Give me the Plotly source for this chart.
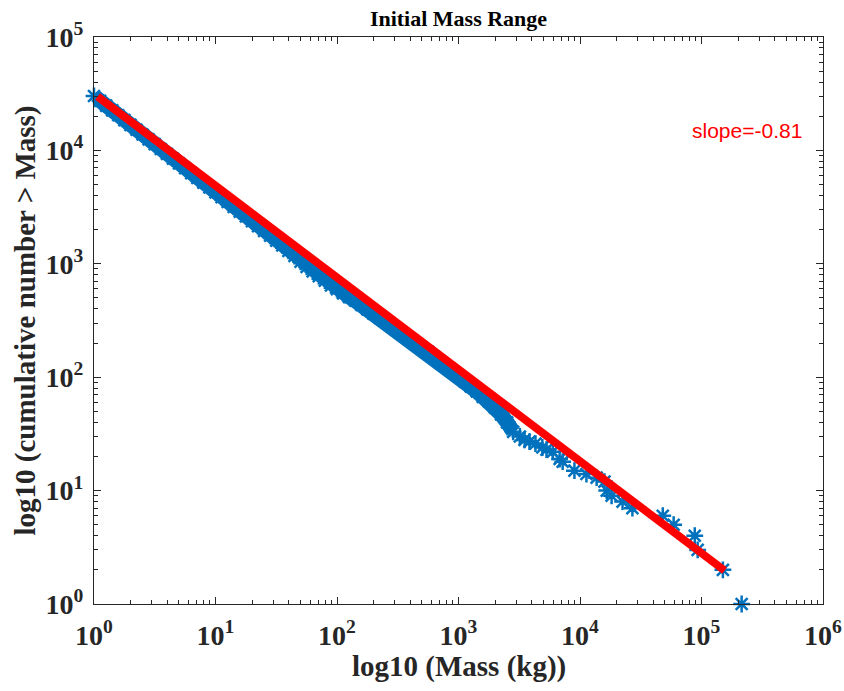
import plotly.graph_objects as go

# ---- data ----
# dense part of the cumulative distribution (mass in kg, cumulative number > mass)
dense_mass = [1.00, 1.122, 1.259, 1.413, 1.585, 1.778, 1.995, 2.239, 2.512, 2.818,
              3.162, 3.548, 3.981, 4.467, 5.012, 5.623, 6.310, 7.079, 7.943, 8.913,
              10.0, 11.22, 12.59, 14.13, 15.85, 17.78, 19.95, 22.39, 25.12, 28.18,
              31.62, 35.48, 39.81, 44.67, 50.12, 56.23, 63.10, 70.79, 79.43, 89.13,
              100, 112.2, 125.9, 141.3, 158.5, 177.8, 199.5, 223.9, 251.2, 281.8,
              316.2, 354.8, 398.1, 446.7, 501.2, 562.3, 631.0, 707.9, 794.3, 891.3,
              1000, 1122, 1259, 1413, 1585, 1778, 1995, 2239, 2512, 2818]
dense_count = [30200, 27380, 24830, 22520, 20420, 18510, 16790, 15220, 13800, 12520,
               11350, 10290, 9333, 8463, 7674, 6959, 6310, 5722, 5188, 4705,
               4266, 3868, 3508, 3181, 2884, 2615, 2371, 2150, 1950, 1768,
               1603, 1454, 1300, 1171, 1042, 939, 855, 779, 710, 646,
               596, 549, 509, 473, 433, 396, 364, 335, 308, 283,
               260, 238, 218, 199, 182, 167, 151, 137, 124, 113,
               102, 92, 83, 75, 67, 61, 54, 47, 40, 33]
# sparse tail
tail_mass = [3200, 3500, 3840, 4300, 4900, 5300, 5970, 6800, 7200, 9000, 11300, 13700,
             15900, 16600, 18200, 22400, 27000, 48000, 59000, 88000, 93000, 150000, 214000]
tail_count = [30, 28, 27, 26, 24, 23, 22, 19, 18, 15, 14, 13,
              12, 10, 9, 8, 7, 6, 5, 4, 3, 2, 1]

# power-law fit
fit_slope = -0.81
fit_log10_intercept = 4.499
fit_mass = [1.07, 1.55e5]
fit_count = [10 ** fit_log10_intercept * m ** fit_slope for m in fit_mass]

x_tickvals = [1, 10, 100, 1e3, 1e4, 1e5, 1e6]
x_ticktext = ["10<sup>0</sup>", "10<sup>1</sup>", "10<sup>2</sup>", "10<sup>3</sup>",
              "10<sup>4</sup>", "10<sup>5</sup>", "10<sup>6</sup>"]
y_tickvals = [1, 10, 100, 1e3, 1e4, 1e5]
y_ticktext = ["10<sup>0</sup>", "10<sup>1</sup>", "10<sup>2</sup>", "10<sup>3</sup>",
              "10<sup>4</sup>", "10<sup>5</sup>"]

BLUE = "#0072BD"
RED = "#FF0000"
AX = "#262626"

mass_all = dense_mass + tail_mass
count_all = dense_count + tail_count

fig = go.Figure()
# dense region: the real data are packed so tightly they form a solid band
fig.add_trace(go.Scatter(
    x=dense_mass, y=dense_count, mode="lines",
    line=dict(color=BLUE, width=15), showlegend=False, hoverinfo="skip"))
fig.add_trace(go.Scatter(
    x=mass_all, y=count_all, mode="markers",
    marker=dict(symbol="asterisk-open", size=14, color=BLUE,
                line=dict(color=BLUE, width=2.5)),
    cliponaxis=False, showlegend=False))
fig.add_trace(go.Scatter(
    x=fit_mass, y=fit_count, mode="lines",
    line=dict(color=RED, width=8), showlegend=False))

def minor_vals(maxdec):
    v = []
    for d in range(maxdec):
        for k in range(2, 10):
            v.append(k * 10 ** d)
    return v

tickfont = dict(family="Liberation Serif", size=28, color=AX, weight="bold")
common = dict(type="log", ticks="inside", ticklen=7, tickwidth=1, tickcolor=AX,
              linecolor=AX, linewidth=1, mirror="ticks", showgrid=False,
              zeroline=False, tickfont=tickfont, tickmode="array", automargin=False)

fig.update_xaxes(range=[0, 6], tickvals=x_tickvals, ticktext=x_ticktext,
                 ticklabelstandoff=6,
                 minor=dict(tickvals=minor_vals(6), ticks="inside", ticklen=4,
                            tickcolor=AX, showgrid=False), **common)
fig.update_yaxes(range=[0, 5], tickvals=y_tickvals, ticktext=y_ticktext,
                 ticklabelstandoff=4,
                 minor=dict(tickvals=minor_vals(5), ticks="inside", ticklen=4,
                            tickcolor=AX, showgrid=False), **common)

fig.update_layout(
    width=844, height=691,
    margin=dict(l=94, r=21, t=37, b=87),
    paper_bgcolor="white", plot_bgcolor="white",
    title=dict(text="<b>Initial Mass Range</b>", x=0.5, xref="paper",
               y=1 - 18 / 691, yref="container", xanchor="center", yanchor="middle",
               font=dict(family="Liberation Serif", size=22, color="black")),
    annotations=[
        dict(text="<b>log10 (Mass (kg))</b>", x=0.5, y=-(666 - 604) / 567, xref="paper",
             yref="paper", xanchor="center", yanchor="middle", showarrow=False,
             font=dict(family="Liberation Serif", size=29, color=AX)),
        dict(text="<b>log10 (cumulative number > Mass)</b>", x=-(94 - 25) / 729, y=0.5,
             xref="paper", yref="paper", xanchor="center", yanchor="middle",
             textangle=-90, showarrow=False,
             font=dict(family="Liberation Serif", size=29, color=AX)),
        dict(text="slope=-0.81", x=4.903, y=4.172, xref="x", yref="y",
             xanchor="left", yanchor="middle", showarrow=False,
             font=dict(family="Liberation Sans", size=21, color=RED)),
    ],
)

fig.write_html("out.html",
               config={"displayModeBar": False},
               post_script="document.body.style.margin='0px';"
                           "document.body.style.overflow='hidden';")
